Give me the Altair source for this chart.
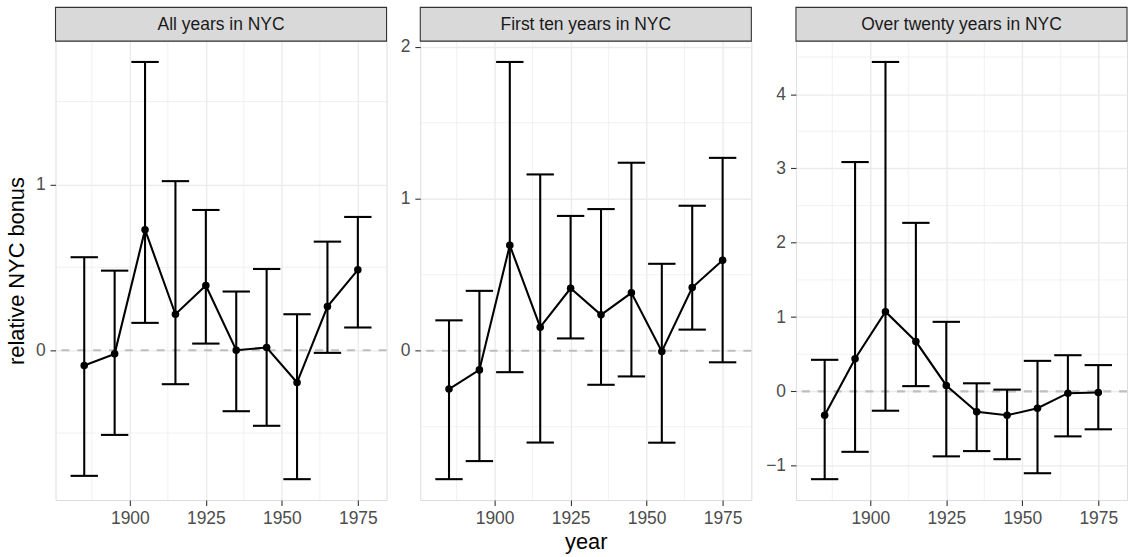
import altair as alt
import pandas as pd

# ---- data ----
years = [1885, 1895, 1905, 1915, 1925, 1935, 1945, 1955, 1965, 1975]

titles = ["All years in NYC", "First ten years in NYC", "Over twenty years in NYC"]

est_all = [-0.092, -0.022, 0.727, 0.217, 0.390, 0.000, 0.016, -0.195, 0.263, 0.485]
hi_all = [0.561, 0.480, 1.739, 1.020, 0.846, 0.354, 0.490, 0.217, 0.655, 0.804]
lo_all = [-0.758, -0.511, 0.165, -0.205, 0.040, -0.368, -0.456, -0.778, -0.016, 0.137]

est_ten = [-0.252, -0.126, 0.694, 0.155, 0.411, 0.236, 0.381, -0.005, 0.416, 0.596]
hi_ten = [0.200, 0.394, 1.900, 1.160, 0.887, 0.932, 1.237, 0.572, 0.954, 1.269]
lo_ten = [-0.845, -0.726, -0.141, -0.604, 0.081, -0.224, -0.169, -0.605, 0.139, -0.076]

est_twenty = [-0.321, 0.440, 1.073, 0.671, 0.080, -0.274, -0.321, -0.227, -0.024, -0.014]
hi_twenty = [0.425, 3.086, 4.433, 2.268, 0.936, 0.109, 0.024, 0.411, 0.487, 0.354]
lo_twenty = [-1.181, -0.813, -0.260, 0.071, -0.874, -0.803, -0.912, -1.101, -0.605, -0.510]

x_ticks = [1900, 1925, 1950, 1975]
x_minor = [1887.5, 1912.5, 1937.5, 1962.5]
y_ticks = [[0, 1], [0, 1, 2], [-1, 0, 1, 2, 3, 4]]
y_minor = [[-0.5, 0.5, 1.5], [-0.5, 0.5, 1.5], [-0.5, 0.5, 1.5, 2.5, 3.5, 4.5]]

FONT = "Liberation Sans"
W, H = 334, 463
STRIP = 34
HALF = 4.5  # half error-bar width (years)


def panel(title, est, hi, lo, yt, ym, ytitle, xtitle):
    df = pd.DataFrame({"year": years, "est": est, "hi": hi, "lo": lo})
    df["x0"] = df["year"] - HALF
    df["x1"] = df["year"] + HALF

    ymin, ymax = min(lo), max(hi)
    ypad = 0.05 * (ymax - ymin)
    xmin, xmax = min(years) - HALF, max(years) + HALF
    xpad = 0.05 * (xmax - xmin)

    xscale = alt.Scale(domain=[xmin - xpad, xmax + xpad], nice=False, zero=False)
    yscale = alt.Scale(domain=[ymin - ypad, ymax + ypad], nice=False, zero=False)

    xaxis = alt.Axis(values=x_ticks, format="d", grid=True, gridColor="#EBEBEB",
                     gridWidth=1.4, domain=False, tickColor="#333333", tickWidth=1.1,
                     tickSize=5.5, labelColor="#4D4D4D", labelFontSize=17.6,
                     labelPadding=4, labelFont=FONT, labelFlush=False,
                     labelOverlap=False, titleFont=FONT, titleFontSize=22,
                     titleFontWeight="normal", titleColor="#000000", titlePadding=5)
    yaxis = alt.Axis(values=yt, format="d", grid=True, gridColor="#EBEBEB",
                     gridWidth=1.4, domain=False, tickColor="#333333", tickWidth=1.1,
                     tickSize=5.5, labelColor="#4D4D4D", labelFontSize=17.6,
                     labelPadding=5, labelFont=FONT, labelFlush=False,
                     labelOverlap=False, titleFont=FONT, titleFontSize=22,
                     titleFontWeight="normal", titleColor="#000000", titlePadding=7)

    def X(field):
        return alt.X(f"{field}:Q", scale=xscale, axis=xaxis, title=xtitle)

    def Y(field):
        return alt.Y(f"{field}:Q", scale=yscale, axis=yaxis, title=ytitle)

    base = alt.Chart(df)

    xgrid = alt.Chart(pd.DataFrame({"xm": x_minor})).mark_rule(
        color="#EBEBEB", strokeWidth=0.7).encode(x=X("xm"))
    ygrid = alt.Chart(pd.DataFrame({"ym": ym})).mark_rule(
        color="#EBEBEB", strokeWidth=0.7).encode(y=Y("ym"))
    zero = alt.Chart(pd.DataFrame({"z": [0]})).mark_rule(
        color="#BEBEBE", strokeWidth=2.1, strokeDash=[8, 8]).encode(y=Y("z"))

    bars = base.mark_rule(color="black", strokeWidth=2.1).encode(
        x=X("year"), y=Y("lo"), y2="hi")
    cap_hi = base.mark_rule(color="black", strokeWidth=2.1).encode(
        x=X("x0"), x2="x1", y=Y("hi"))
    cap_lo = base.mark_rule(color="black", strokeWidth=2.1).encode(
        x=X("x0"), x2="x1", y=Y("lo"))
    line = base.mark_line(color="black", strokeWidth=2.1).encode(
        x=X("year"), y=Y("est"))
    pts = base.mark_circle(color="black", size=58, opacity=1).encode(
        x=X("year"), y=Y("est"))

    sdf = pd.DataFrame({"label": [title]})
    strip = alt.Chart(sdf).mark_rect(
        fill="#D9D9D9", stroke="#333333", strokeWidth=1.1).encode(
        x=alt.value(0), x2=alt.value(W), y=alt.value(-STRIP), y2=alt.value(0))
    stext = alt.Chart(sdf).mark_text(
        font=FONT, fontSize=17.6, color="#1A1A1A", align="center",
        baseline="middle").encode(
        x=alt.value(W / 2), y=alt.value(-STRIP / 2 + 1), text="label:N")

    return alt.layer(xgrid, ygrid, zero, bars, cap_hi, cap_lo, line, pts,
                     strip, stext).properties(width=W, height=H)


p1 = panel(titles[0], est_all, hi_all, lo_all, y_ticks[0], y_minor[0],
           "relative NYC bonus", None)
p2 = panel(titles[1], est_ten, hi_ten, lo_ten, y_ticks[1], y_minor[1],
           None, "year")
p3 = panel(titles[2], est_twenty, hi_twenty, lo_twenty, y_ticks[2], y_minor[2],
           None, None)

chart = alt.hconcat(p1, p2, p3, spacing=11).properties(
    padding={"left": 5, "top": 3, "right": 0, "bottom": 0},
    background="white",
).configure_view(stroke="#333333", strokeWidth=1.1).configure(font=FONT)

chart.save("out.html", embed_options={"renderer": "svg", "actions": False})
